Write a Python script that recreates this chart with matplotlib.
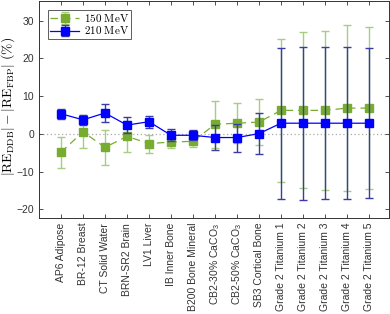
import matplotlib
matplotlib.use("Agg")
import matplotlib.pyplot as plt
import numpy as np

plt.rcParams['font.family'] = ['Liberation Sans', 'DejaVu Sans']
plt.rcParams['mathtext.fontset'] = 'custom'
plt.rcParams['mathtext.rm'] = 'Liberation Sans'
plt.rcParams['mathtext.it'] = 'Liberation Sans:italic'

categories = ["AP6 Adipose", "BR-12 Breast", "CT Solid Water", "BRN-SR2 Brain",
              "LV1 Liver", "IB Inner Bone", "B200 Bone Mineral",
              "CB2-30% CaCO$_3$", "CB2-50% CaCO$_3$", "SB3 Cortical Bone",
              "Grade 2 Titanium 1", "Grade 2 Titanium 2", "Grade 2 Titanium 3",
              "Grade 2 Titanium 4", "Grade 2 Titanium 5"]

mev150 = [-4.9, 0.5, -3.6, -0.7, -2.6, -2.2, -2.0, 2.5, 2.8, 3.1, 6.2, 6.2, 6.2, 6.8, 6.8]
mev150_err = [4.1, 4.4, 4.7, 4.1, 2.4, 1.5, 1.5, 6.2, 5.3, 6.2, 19.0, 20.7, 21.1, 22.0, 21.5]
mev210 = [5.3, 3.7, 5.5, 2.3, 3.2, -0.4, -0.4, -1.0, -1.0, 0.05, 2.8, 2.8, 2.8, 2.8, 2.8]
mev210_err = [1.3, 1.3, 2.4, 2.2, 1.6, 1.6, 1.3, 3.2, 3.7, 5.5, 20.0, 20.3, 20.1, 20.1, 19.9]

fig = plt.figure(figsize=(3.9, 3.14), dpi=100)
ax = fig.add_axes([0.1, 0.306, 0.897, 0.691])

x = np.arange(len(categories))
ax.axhline(0, color='#aaaaaa', linestyle=(0, (1, 2)), linewidth=0.9, zorder=0)

green = '#77AC30'
blue = '#0000FF'
ax.errorbar(x, mev150, yerr=mev150_err, color=green, ecolor='#a8cc80', elinewidth=1.0,
            capsize=3, capthick=1.0, linestyle=(0, (6, 4)), linewidth=0.9,
            marker='s', markersize=5.5, markeredgecolor=green, label='$\\mathrm{150\\ MeV}$',
            zorder=2)
ax.errorbar(x, mev210, yerr=mev210_err, color=blue, ecolor='#3a3aa8', elinewidth=1.0,
            capsize=3, capthick=1.0, linestyle='-', linewidth=0.9,
            marker='s', markersize=5.5, markeredgecolor=blue, label='$\\mathrm{210\\ MeV}$',
            zorder=3)

ax.set_xlim(-1, 14.9)
ax.set_ylim(-22.3, 35.2)
ax.set_yticks([-20, -10, 0, 10, 20, 30])
ax.set_xticks(x)
ax.set_xticklabels(categories, rotation=90, fontsize=7.5)
ax.tick_params(axis='y', labelsize=7.5, labelcolor='#333333')
ax.tick_params(axis='x', labelcolor='#333333')
ax.tick_params(direction='in', top=True, right=True, length=3, width=0.6, color='#333333')
for s in ax.spines.values():
    s.set_color('#333333')
    s.set_linewidth(0.7)

ax.set_ylabel(r'$|\mathrm{RE}_{\mathrm{DDB}}| - |\mathrm{RE}_{\mathrm{FBP}}|\ (\%)$',
              fontsize=9.8, math_fontfamily='cm')
ax.yaxis.set_label_coords(-0.062, 0.515)

leg = ax.legend(loc='upper left', fontsize=8, frameon=True, fancybox=False,
                edgecolor='#333333', borderpad=0.2, handlelength=2.6,
                handletextpad=0.4, labelspacing=0.05, borderaxespad=0,
                bbox_to_anchor=(0.026, 0.96))
leg.get_frame().set_linewidth(0.7)
for t in leg.get_texts():
    t.set_math_fontfamily('cm')

fig.savefig('out.png', dpi=100)
